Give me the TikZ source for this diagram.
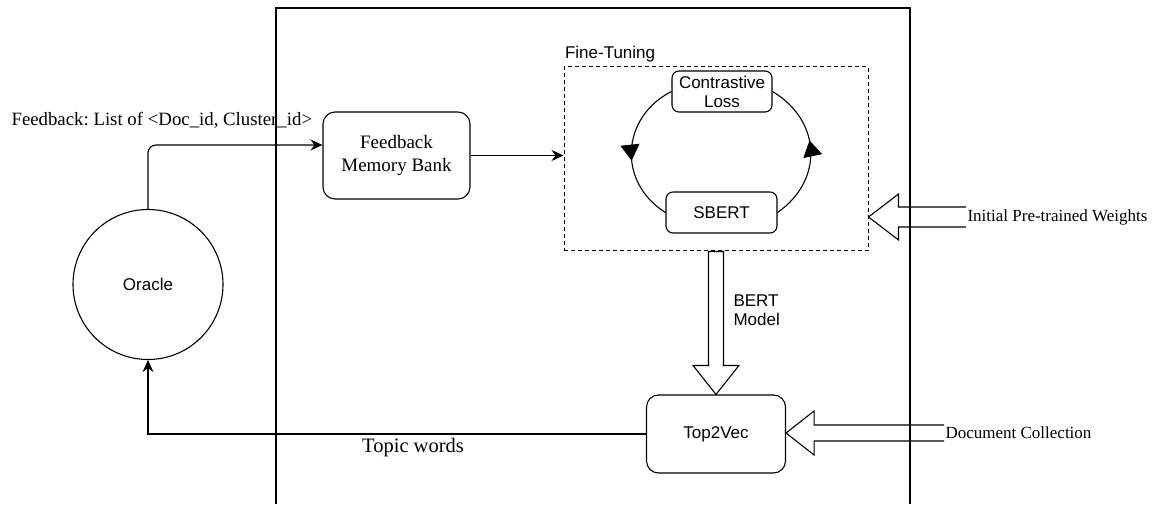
\documentclass[tikz,border=0pt]{standalone}
\usepackage{fontspec}
\setmainfont{Liberation Sans}
\newfontfamily\tnr{Liberation Serif}
\usetikzlibrary{arrows.meta,decorations.markings,calc}
\frenchspacing

\begin{document}
\begin{tikzpicture}[x=1pt, y=1pt, line width=1.1pt,
    font=\fontsize{17}{19}\selectfont,
    box/.style = {draw, rounded corners=#1, align=center, inner sep=0pt},
    serif/.style = {font=\tnr\fontsize{#1}{23}\selectfont},
    serif/.default = 17,
    >={Stealth[length=12pt, width=11pt, inset=4pt]},
    loopmark/.style = {postaction={decorate}, decoration={markings,
        mark=at position 0.57 with {\arrow{Triangle[length=16pt, width=19pt]}}}}]
  \useasboundingbox (0,0) rectangle (1156,504);
  \draw (276,0) -- (276,496) -- (910,496) -- (910,0);

  \node[draw, circle, minimum size=150pt, inner sep=0pt] (oracle) at (148,219.5) {Oracle};
  \node[box=12pt, minimum width=147pt, minimum height=87pt, serif=19] (fb) at (396.5,348.5) {Feedback\\Memory Bank};
  \node[draw, dash pattern=on 4pt off 3pt, line width=1pt, minimum width=304pt, minimum height=184pt] (ft) at (716,345) {};
  \node[anchor=base west, inner sep=0pt] (ftlbl) at ($(ft.north west)+(1,8)$) {Fine-Tuning};
  \node[box=7pt, minimum width=100pt, minimum height=41pt] (cl) at (722,412.5) {Contrastive\\Loss};
  \node[box=7pt, minimum width=111pt, minimum height=41pt] (sbert) at (721.5,291.5) {SBERT};
  \node[box=12pt, minimum width=139pt, minimum height=78pt] (t2v) at (716,70) {Top2Vec};

  \node[serif=18.8, anchor=west, inner sep=1pt] (fblbl) at (10,384) {Feedback: List of <Doc\_id, Cluster\_id>};
  \node[serif, anchor=west, inner sep=1pt] (wts) at (966,287) {Initial Pre-trained Weights};
  \node[serif, anchor=west, inner sep=1pt] (doc) at (944,71) {Document Collection};
  \node[serif=20.5, inner sep=0pt] (topic) at (413,56) {Topic words};
  \node[anchor=west, align=left, inner sep=0pt] (bert) at (733,194) {BERT\\Model};

  \draw[->, rounded corners=8pt] (oracle.north) |- ([yshift=10.5pt]fb.west);
  \draw[->] (fb.east) -- (fb.east -| ft.west);
  \draw[->] (t2v.west) -| (oracle.south);

  \draw[loopmark] (cl.west) to[out=207, in=148, looseness=1.2] (sbert.west);
  \draw[loopmark] (sbert.east) to[out=35, in=-31, looseness=1.2] (cl.east);

  % hollow arrows
  \coordinate (wtip) at (ft.east |- wts.west);
  \draw ([yshift=10pt]wts.west) -- ($(wtip)+(30,10)$) -- ++(0,13) -- (wtip)
    -- ++(30,-23) -- ++(0,13) -- ([yshift=-10pt]wts.west);
  \coordinate (dtip) at (t2v.east |- doc.west);
  \draw ([yshift=8pt]doc.west) -- ($(dtip)+(28,8)$) -- ++(0,14) -- (dtip)
    -- ++(28,-22) -- ++(0,14) -- ([yshift=-8pt]doc.west);
  \draw ($(ft.south)+(-7.5,0)$) -- ($(t2v.north)+(-7.5,29)$) -- ++(-15.5,0) -- (t2v.north)
    -- ++(23,29) -- ++(-15.5,0) -- ($(ft.south)+(7.5,0)$) -- cycle;
\end{tikzpicture}
\end{document}
